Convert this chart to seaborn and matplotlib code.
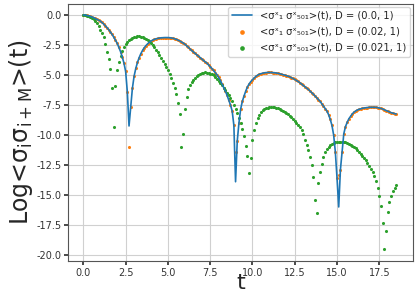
import numpy as np
import pandas as pd
import matplotlib
matplotlib.use("Agg")
import matplotlib.pyplot as plt
import seaborn as sns

# sample times (uniform grid read from the dot spacing)
t_start = 0.0
t_step = 0.1
n_samples = 186

blue_D00 = [
    0.0, -0.01, -0.03, -0.06, -0.1, -0.15, -0.21, -0.28, -0.36, -0.43,
    -0.5, -0.62, -0.75, -0.9, -1.05, -1.22, -1.42, -1.62, -1.85, -2.1,
    -2.35, -2.7, -3.05, -3.5, -4.0, -4.7, -6.4, -9.25, -7.7, -6.1,
    -5.1, -4.45, -3.95, -3.55, -3.22, -2.95, -2.73, -2.55, -2.4, -2.27,
    -2.17, -2.09, -2.03, -1.98, -1.95, -1.92, -1.9, -1.89, -1.88, -1.88,
    -1.88, -1.89, -1.91, -1.94, -1.98, -2.03, -2.09, -2.16, -2.24, -2.33,
    -2.43, -2.55, -2.68, -2.82, -2.95, -3.07, -3.19, -3.31, -3.43, -3.55,
    -3.67, -3.79, -3.9, -4.0, -4.15, -4.3, -4.46, -4.62, -4.8, -4.98,
    -5.2, -5.45, -5.75, -6.05, -6.35, -6.7, -7.1, -7.5, -8.0, -9.2,
    -13.9, -10.5, -9.0, -7.85, -7.2, -6.75, -6.35, -6.0, -5.75, -5.55,
    -5.4, -5.25, -5.12, -5.02, -4.94, -4.89, -4.85, -4.82, -4.8, -4.79,
    -4.79, -4.79, -4.8, -4.81, -4.83, -4.86, -4.89, -4.93, -4.97, -5.01,
    -5.05, -5.1, -5.15, -5.22, -5.29, -5.37, -5.45, -5.54, -5.64, -5.75,
    -5.86, -5.97, -6.08, -6.2, -6.33, -6.46, -6.6, -6.75, -6.9, -7.05,
    -7.2, -7.4, -7.6, -7.8, -8.0, -8.3, -8.7, -9.2, -10.0, -11.4,
    -13.6, -16.0, -12.9, -11.4, -9.9, -9.3, -8.95, -8.65, -8.45, -8.25,
    -8.1, -8.0, -7.92, -7.86, -7.82, -7.78, -7.75, -7.73, -7.71, -7.7,
    -7.69, -7.69, -7.69, -7.7, -7.72, -7.75, -7.79, -7.84, -7.9, -7.96,
    -8.02, -8.08, -8.14, -8.18, -8.22, -8.25,
]

orange_D002 = [
    0.0, -0.01, -0.03, -0.06, -0.1, -0.15, -0.21, -0.28, -0.36, -0.43,
    -0.5, -0.62, -0.75, -0.9, -1.05, -1.22, -1.42, -1.62, -1.85, -2.1,
    -2.35, -2.7, -3.05, -3.5, -4.0, -4.7, -6.4, -11.0, -7.7, -6.1,
    -5.1, -4.45, -3.95, -3.55, -3.22, -2.95, -2.73, -2.55, -2.4, -2.27,
    -2.17, -2.09, -2.03, -1.98, -1.95, -1.92, -1.9, -1.89, -1.88, -1.88,
    -1.88, -1.89, -1.91, -1.94, -1.98, -2.03, -2.09, -2.16, -2.24, -2.33,
    -2.43, -2.55, -2.68, -2.82, -2.95, -3.07, -3.19, -3.31, -3.43, -3.55,
    -3.67, -3.79, -3.9, -4.0, -4.15, -4.3, -4.46, -4.62, -4.8, -4.98,
    -5.2, -5.45, -5.75, -6.05, -6.35, -6.7, -7.1, -7.5, -8.0, -9.2,
    -11.45, -10.5, -9.0, -7.85, -7.2, -6.75, -6.35, -6.0, -5.75, -5.55,
    -5.4, -5.25, -5.12, -5.02, -4.94, -4.89, -4.85, -4.82, -4.8, -4.79,
    -4.79, -4.79, -4.8, -4.81, -4.83, -4.86, -4.89, -4.93, -4.97, -5.01,
    -5.05, -5.1, -5.15, -5.22, -5.29, -5.37, -5.45, -5.54, -5.64, -5.75,
    -5.86, -5.97, -6.08, -6.2, -6.33, -6.46, -6.6, -6.75, -6.9, -7.05,
    -7.2, -7.4, -7.6, -7.8, -8.0, -8.3, -8.7, -9.2, -10.0, -11.4,
    -13.6, -13.3, -12.9, -11.4, -9.9, -9.3, -8.95, -8.65, -8.45, -8.25,
    -8.1, -8.0, -7.92, -7.86, -7.82, -7.78, -7.75, -7.73, -7.71, -7.7,
    -7.69, -7.69, -7.69, -7.7, -7.72, -7.75, -7.79, -7.84, -7.9, -7.96,
    -8.02, -8.08, -8.14, -8.18, -8.22, -8.25,
]

green_D0021 = [
    0.0, -0.01, -0.04, -0.09, -0.16, -0.25, -0.36, -0.5, -0.7, -0.95,
    -1.25, -1.5, -1.85, -2.4, -3.1, -3.7, -4.5, -6.05, -9.36, -5.9,
    -4.6, -3.9, -3.4, -3.0, -2.7, -2.45, -2.25, -2.1, -1.98, -1.9,
    -1.84, -1.8, -1.78, -1.78, -1.8, -1.84, -1.9, -1.98, -2.08, -2.2,
    -2.34, -2.5, -2.68, -2.88, -3.1, -3.35, -3.6, -3.85, -4.1, -4.35,
    -4.6, -4.9, -5.25, -5.65, -6.1, -6.6, -7.3, -8.25, -11.0, -9.9,
    -7.8, -6.8, -6.2, -5.85, -5.6, -5.4, -5.22, -5.08, -4.97, -4.89,
    -4.83, -4.8, -4.79, -4.8, -4.83, -4.88, -4.95, -5.04, -5.15, -5.3,
    -5.47, -5.65, -5.85, -6.05, -6.25, -6.47, -6.7, -6.95, -7.2, -7.5,
    -7.85, -8.2, -8.6, -9.0, -9.5, -10.1, -10.9, -11.75, -13.2, -11.9,
    -10.4, -9.6, -9.0, -8.6, -8.3, -8.1, -7.95, -7.85, -7.78, -7.73,
    -7.7, -7.69, -7.69, -7.7, -7.73, -7.77, -7.83, -7.9, -7.98, -8.07,
    -8.17, -8.28, -8.4, -8.53, -8.67, -8.82, -8.98, -9.15, -9.33, -9.6,
    -9.95, -10.4, -10.8, -11.25, -11.8, -12.5, -13.5, -15.4, -16.5, -14.0,
    -13.1, -12.4, -11.8, -11.45, -11.2, -11.0, -10.85, -10.75, -10.67, -10.61,
    -10.57, -10.55, -10.55, -10.56, -10.58, -10.62, -10.67, -10.73, -10.8, -10.9,
    -11.0, -11.12, -11.25, -11.4, -11.55, -11.72, -11.9, -12.1, -12.32, -12.56,
    -12.82, -13.1, -13.45, -13.85, -14.4, -15.1, -15.9, -17.3, -19.5, -18.0,
    -16.4, -15.6, -15.1, -14.7, -14.4, -14.2,
]

labels = [
    "<σˣ₁ σˣ₅₀₁>(t), D = (0.0, 1)",
    "<σˣ₁ σˣ₅₀₁>(t), D = (0.02, 1)",
    "<σˣ₁ σˣ₅₀₁>(t), D = (0.021, 1)",
]
xlabel = "t"
ylabel = r"Log<σ$\mathregular{_i}$σ$\mathregular{_{i+M}}$>(t)"

t = np.round(t_start + t_step * np.arange(n_samples), 2)

sns.set_theme(style="whitegrid")
plt.rcParams.update({
    "font.family": ["DejaVu Sans"],
    "axes.edgecolor": "#555555",
    "axes.linewidth": 0.8,
    "grid.color": "#d0d0d0",
    "grid.linewidth": 0.8,
    "xtick.bottom": True,
    "ytick.left": True,
    "xtick.major.size": 3,
    "ytick.major.size": 3,
    "xtick.color": "#333333",
    "ytick.color": "#333333",
})

fig = plt.figure(figsize=(4.15, 2.94), dpi=100)
ax = fig.add_axes([0.1646, 0.1133, 0.8313, 0.8731])

pal = sns.color_palette("tab10")
sns.lineplot(x=t, y=blue_D00, ax=ax, color=pal[0], linewidth=1.2, label=labels[0])
sns.scatterplot(x=t, y=orange_D002, ax=ax, color=pal[1], s=5, linewidth=0, label=labels[1])
sns.scatterplot(x=t, y=green_D0021, ax=ax, color=pal[2], s=5, linewidth=0, label=labels[2])

ax.set_xticks([0, 2.5, 5, 7.5, 10, 12.5, 15, 17.5])
ax.set_yticks([0, -2.5, -5, -7.5, -10, -12.5, -15, -17.5, -20])
ax.xaxis.set_major_formatter(matplotlib.ticker.FormatStrFormatter("%.1f"))
ax.yaxis.set_major_formatter(matplotlib.ticker.FormatStrFormatter("%.1f"))
ax.tick_params(labelsize=7, pad=2)
ax.set_xlim(-0.89, 19.51)
ax.set_ylim(-20.48, 0.92)
ax.set_xlabel(xlabel, fontsize=16, labelpad=-3)
ax.set_ylabel(ylabel, fontsize=17, labelpad=1)

leg = ax.legend(loc="upper right", fontsize=7.2, markerscale=1.5, frameon=True,
                borderaxespad=0.3, handlelength=2.0, labelspacing=0.6)

fig.savefig("out.png", dpi=100)
